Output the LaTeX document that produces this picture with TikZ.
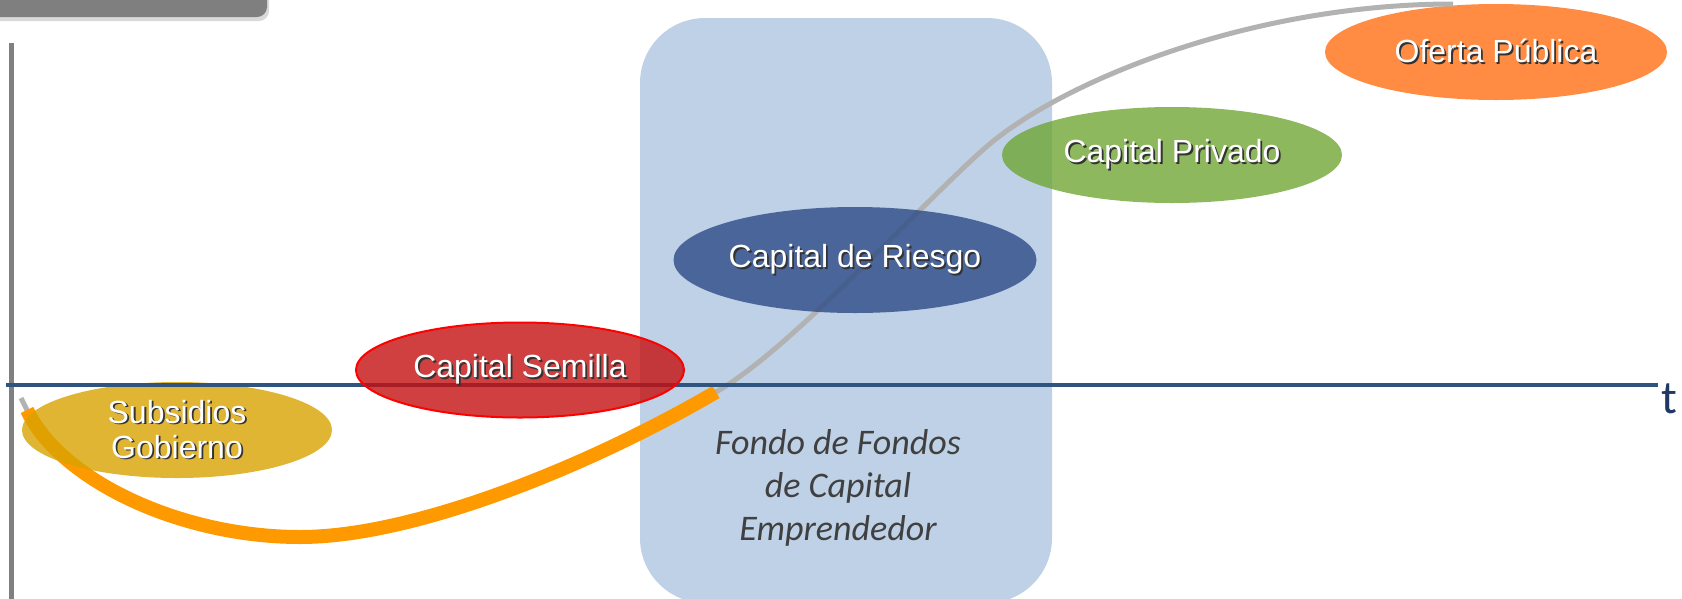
\documentclass[tikz,border=0pt]{standalone}
\usepackage{fontspec}
\setmainfont{Liberation Sans}
\newfontfamily\calibri{Carlito}
\usetikzlibrary{shapes.geometric,shadows}

\definecolor{boxgray}{RGB}{127,127,127}
\definecolor{axisgray}{RGB}{128,128,128}
\definecolor{axisblue}{RGB}{48,84,128}
\definecolor{tblue}{RGB}{31,56,100}
\definecolor{fondoblue}{RGB}{191,209,230}
\definecolor{fondotext}{RGB}{64,64,64}
\definecolor{curvegray}{RGB}{178,178,178}
\definecolor{seedorange}{RGB}{255,153,0}
\definecolor{ofertaorange}{RGB}{255,140,66}
\definecolor{privadogreen}{RGB}{112,166,54}
\definecolor{riesgoblue}{RGB}{45,75,134}
\definecolor{semillared}{RGB}{196,16,16}
\definecolor{subsidiosgold}{RGB}{216,162,1}

% white text with a dark shadow
\newcommand{\shd}[1]{\makebox[0pt][l]{\hspace{1.8pt}\raisebox{-1.8pt}{\color{black!80}#1}}#1}

\begin{document}
\begin{tikzpicture}[x=1pt, y=-1pt,
    stage/.style={ellipse, inner sep=0pt, text=white, font=\fontsize{32}{35}\selectfont},
    seethrough/.style={fill opacity=.8, text opacity=1}]
\useasboundingbox (0,0) rectangle (1682,598);

% Title tab
\fill[boxgray, rounded corners=10pt,
      drop shadow={shadow xshift=2pt, shadow yshift=-4pt, opacity=.3}] (-30,-30) rectangle (267,17);

% Vertical axis
\draw[axisgray, line width=5pt] (11.5,43) -- (11.5,600);

% Fund of funds block
\fill[fondoblue, rounded corners=65pt] (640,18) rectangle (1052,603);
\node[font=\calibri\itshape\fontsize{36}{43}\selectfont, text=fondotext, align=center]
    (fondo) at (838,488) {Fondo de Fondos\\de Capital\\Emprendedor};

% Later stages
\node[stage, fill=ofertaorange, minimum width=342pt, minimum height=96pt]
    (oferta) at (1496,52) {\shd{Oferta Pública}};
\node[stage, fill=privadogreen, seethrough, minimum width=340pt, minimum height=96pt]
    (privado) at (1172,155) {\shd{Capital Privado}};

% Growth curve
\coordinate (start) at (27,410);
\coordinate (low) at (300,537);
\coordinate (seedend) at (716,392);
\coordinate (bend) at (985,148);
\coordinate (top) at (1453,4);
\draw[curvegray, line width=5pt] (21,398) -- (start)
    .. controls (60,480) and (180,537) .. (low)
    .. controls (420,537) and (600,460) .. (seedend)
    .. controls (790,350) and (915,210) .. (bend)
    .. controls (1060,82) and (1250,4) .. (top);

\node[stage, fill=riesgoblue, seethrough, minimum width=363pt, minimum height=106pt]
    (riesgo) at (855,260) {\shd{Capital de Riesgo}};

% Early stage funding
\draw[seedorange, line width=14pt] (start)
    .. controls (60,480) and (180,537) .. (low)
    .. controls (420,537) and (600,460) .. (seedend);

\node[stage, fill=subsidiosgold, seethrough, align=center, minimum width=310pt, minimum height=96pt]
    (subsidios) at (177,430) {\shd{Subsidios}\\\shd{Gobierno}};

% Time axis
\draw[axisblue, line width=4.5pt] (6,385) -- (1658,385) coordinate (tend);
\node[font=\calibri\fontsize{47}{50}\selectfont, text=tblue, anchor=base] (t) at (1669,413) {t};

\node[stage, draw=red, line width=2pt, fill=semillared, seethrough, minimum width=328pt, minimum height=95pt]
    (semilla) at (520,370) {\shd{Capital Semilla}};
\end{tikzpicture}
\end{document}
